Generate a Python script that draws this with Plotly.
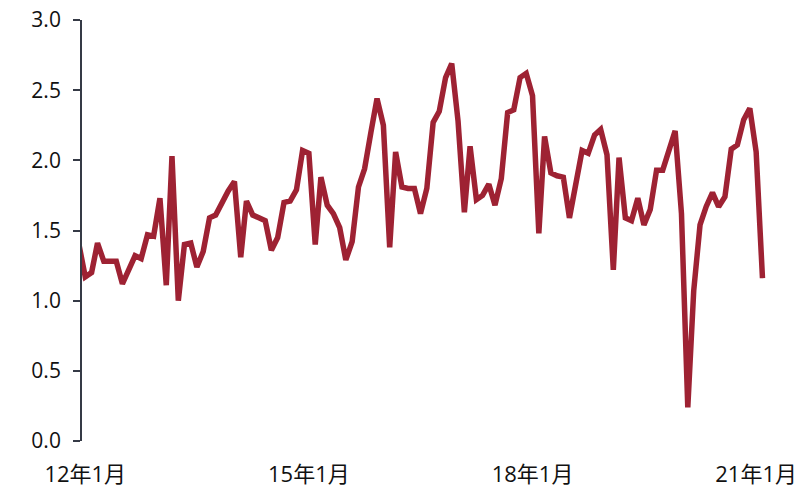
import pandas as pd
import plotly.graph_objects as go

# Monthly series, Dec 2011 through Feb 2021
months = pd.date_range("2011-12-01", "2021-02-01", freq="MS")

ratio = [
    1.40,                                                                    # 2011-12
    1.17, 1.20, 1.41, 1.28, 1.28, 1.28, 1.12, 1.22, 1.32, 1.30, 1.47, 1.46,  # 2012
    1.73, 1.11, 2.03, 1.00, 1.40, 1.41, 1.24, 1.35, 1.59, 1.61, 1.70, 1.78,  # 2013
    1.85, 1.31, 1.71, 1.61, 1.59, 1.57, 1.36, 1.45, 1.70, 1.71, 1.79, 2.07,  # 2014
    2.05, 1.40, 1.88, 1.68, 1.62, 1.52, 1.29, 1.42, 1.81, 1.94, 2.20, 2.44,  # 2015
    2.25, 1.38, 2.06, 1.81, 1.80, 1.80, 1.62, 1.80, 2.27, 2.35, 2.59, 2.69,  # 2016
    2.28, 1.63, 2.10, 1.72, 1.75, 1.83, 1.68, 1.87, 2.34, 2.36, 2.59, 2.62,  # 2017
    2.46, 1.48, 2.17, 1.91, 1.89, 1.88, 1.59, 1.82, 2.07, 2.05, 2.18, 2.22,  # 2018
    2.04, 1.22, 2.02, 1.59, 1.57, 1.73, 1.54, 1.65, 1.93, 1.93, 2.07, 2.21,  # 2019
    1.62, 0.24, 1.07, 1.54, 1.67, 1.77, 1.67, 1.74, 2.08, 2.11, 2.29, 2.37,  # 2020
    2.06, 1.16,                                                              # 2021
]

tick_dates = ["2012-01-01", "2015-01-01", "2018-01-01", "2021-01-01"]
tick_labels = ["12年1月", "15年1月", "18年1月", "21年1月"]

y_ticks = [0.0, 0.5, 1.0, 1.5, 2.0, 2.5, 3.0]

font_family = "Open Sans, Noto Sans CJK SC, sans-serif"
axis_color = "#353a46"

fig = go.Figure(
    go.Scatter(
        x=months,
        y=ratio,
        mode="lines",
        line=dict(color="#9e2233", width=5.5),
        hoverinfo="skip",
    )
)

fig.update_layout(
    width=799,
    height=487,
    margin=dict(l=82, r=30, t=20, b=46),
    paper_bgcolor="white",
    plot_bgcolor="white",
    showlegend=False,
    font=dict(family=font_family, size=22, color="#111111"),
)

fig.update_xaxes(
    range=["2011-12-16", "2021-03-05"],
    tickvals=tick_dates,
    ticktext=tick_labels,
    showline=False,
    showgrid=False,
    zeroline=False,
    ticks="",
    ticklabelstandoff=18,
    automargin=False,
)

fig.update_yaxes(
    range=[0, 3],
    tickvals=y_ticks,
    tickformat=".1f",
    showline=True,
    linecolor=axis_color,
    linewidth=1.8,
    ticks="outside",
    ticklen=7,
    tickwidth=1.8,
    tickcolor=axis_color,
    showgrid=False,
    zeroline=False,
    ticklabelstandoff=8,
    automargin=False,
    tickfont=dict(size=21),
)

fig.write_html("out.html")
